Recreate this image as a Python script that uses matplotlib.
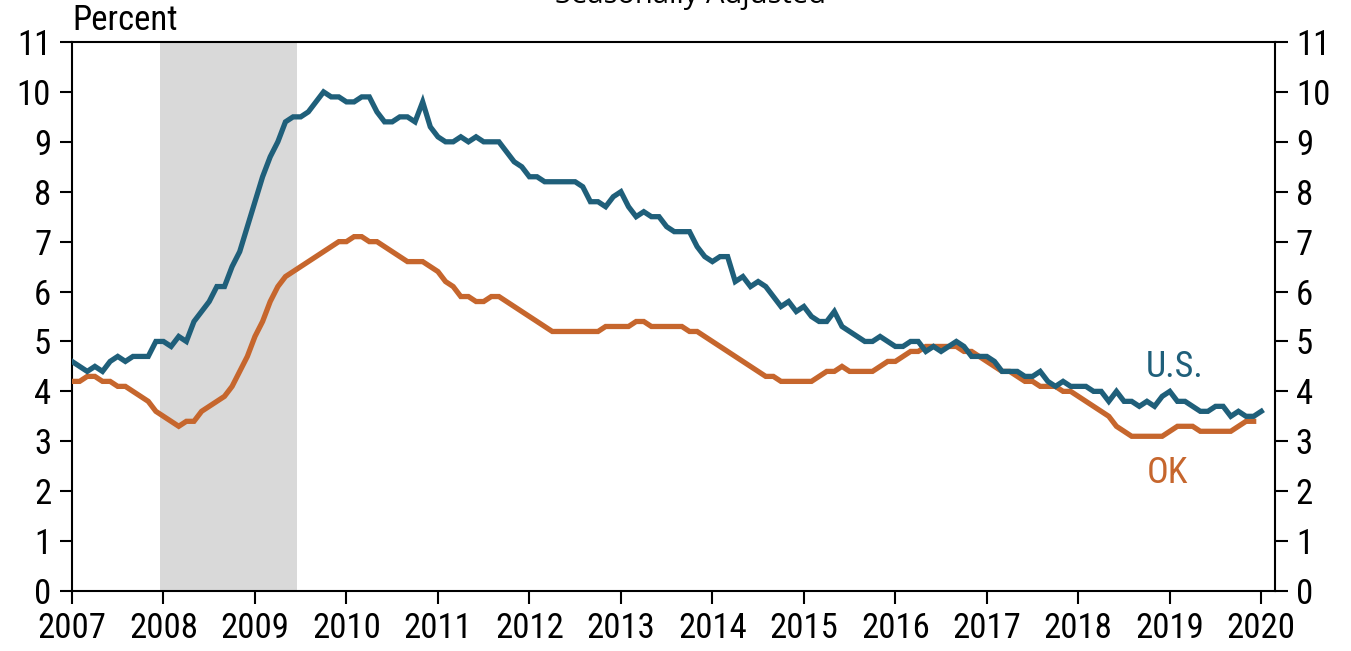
#!/usr/bin/env python3
"""Unemployment rate, U.S. vs Oklahoma, seasonally adjusted"""

import numpy as np
import matplotlib

matplotlib.use("Agg")
import matplotlib.pyplot as plt
from matplotlib import font_manager

#
# DATA (monthly, Jan 2007 onward)
#
start_year = 2007
us_rate = [
    4.6, 4.5, 4.4, 4.5, 4.4, 4.6, 4.7, 4.6, 4.7, 4.7, 4.7, 5.0,
    5.0, 4.9, 5.1, 5.0, 5.4, 5.6, 5.8, 6.1, 6.1, 6.5, 6.8, 7.3,
    7.8, 8.3, 8.7, 9.0, 9.4, 9.5, 9.5, 9.6, 9.8, 10.0, 9.9, 9.9,
    9.8, 9.8, 9.9, 9.9, 9.6, 9.4, 9.4, 9.5, 9.5, 9.4, 9.8, 9.3,
    9.1, 9.0, 9.0, 9.1, 9.0, 9.1, 9.0, 9.0, 9.0, 8.8, 8.6, 8.5,
    8.3, 8.3, 8.2, 8.2, 8.2, 8.2, 8.2, 8.1, 7.8, 7.8, 7.7, 7.9,
    8.0, 7.7, 7.5, 7.6, 7.5, 7.5, 7.3, 7.2, 7.2, 7.2, 6.9, 6.7,
    6.6, 6.7, 6.7, 6.2, 6.3, 6.1, 6.2, 6.1, 5.9, 5.7, 5.8, 5.6,
    5.7, 5.5, 5.4, 5.4, 5.6, 5.3, 5.2, 5.1, 5.0, 5.0, 5.1, 5.0,
    4.9, 4.9, 5.0, 5.0, 4.8, 4.9, 4.8, 4.9, 5.0, 4.9, 4.7, 4.7,
    4.7, 4.6, 4.4, 4.4, 4.4, 4.3, 4.3, 4.4, 4.2, 4.1, 4.2, 4.1,
    4.1, 4.1, 4.0, 4.0, 3.8, 4.0, 3.8, 3.8, 3.7, 3.8, 3.7, 3.9,
    4.0, 3.8, 3.8, 3.7, 3.6, 3.6, 3.7, 3.7, 3.5, 3.6, 3.5, 3.5,
    3.6,
]
ok_rate = [
    4.2, 4.2, 4.3, 4.3, 4.2, 4.2, 4.1, 4.1, 4.0, 3.9, 3.8, 3.6,
    3.5, 3.4, 3.3, 3.4, 3.4, 3.6, 3.7, 3.8, 3.9, 4.1, 4.4, 4.7,
    5.1, 5.4, 5.8, 6.1, 6.3, 6.4, 6.5, 6.6, 6.7, 6.8, 6.9, 7.0,
    7.0, 7.1, 7.1, 7.0, 7.0, 6.9, 6.8, 6.7, 6.6, 6.6, 6.6, 6.5,
    6.4, 6.2, 6.1, 5.9, 5.9, 5.8, 5.8, 5.9, 5.9, 5.8, 5.7, 5.6,
    5.5, 5.4, 5.3, 5.2, 5.2, 5.2, 5.2, 5.2, 5.2, 5.2, 5.3, 5.3,
    5.3, 5.3, 5.4, 5.4, 5.3, 5.3, 5.3, 5.3, 5.3, 5.2, 5.2, 5.1,
    5.0, 4.9, 4.8, 4.7, 4.6, 4.5, 4.4, 4.3, 4.3, 4.2, 4.2, 4.2,
    4.2, 4.2, 4.3, 4.4, 4.4, 4.5, 4.4, 4.4, 4.4, 4.4, 4.5, 4.6,
    4.6, 4.7, 4.8, 4.8, 4.9, 4.9, 4.9, 4.9, 4.9, 4.8, 4.8, 4.7,
    4.6, 4.5, 4.4, 4.4, 4.3, 4.2, 4.2, 4.1, 4.1, 4.1, 4.0, 4.0,
    3.9, 3.8, 3.7, 3.6, 3.5, 3.3, 3.2, 3.1, 3.1, 3.1, 3.1, 3.1,
    3.2, 3.3, 3.3, 3.3, 3.2, 3.2, 3.2, 3.2, 3.2, 3.3, 3.4, 3.4,
]
# recession (Dec 2007 - Jun 2009), decimal years
recession = (2007.967, 2009.458)
year_ticks = list(range(2007, 2021))
pct_ticks = list(range(0, 12))

US_COLOR = "#1f5f7a"
OK_COLOR = "#c6662d"


#
# TOOLS
#
def pick_font(names):
    have = {f.name for f in font_manager.fontManager.ttflist}
    for n in names:
        if n in have:
            return n
    return "DejaVu Sans"


narrow = pick_font(["Liberation Sans Narrow", "Arial Narrow", "Roboto Condensed", "DejaVu Sans Condensed", "Liberation Sans"])
title_font = pick_font(["Open Sans", "Lato", "Noto Sans"])

plt.rcParams["font.family"] = [narrow, "DejaVu Sans"]

us_x = start_year + np.arange(len(us_rate)) / 12.0
ok_x = start_year + np.arange(len(ok_rate)) / 12.0

fig = plt.figure(figsize=(13.51, 6.51), dpi=100)
ax = fig.add_axes([72 / 1351, 60 / 651, (1275 - 72) / 1351, (591 - 42) / 651])

ax.axvspan(recession[0], recession[1], color="#d9d9d9", lw=0, zorder=0)

ax.plot(ok_x, ok_rate, color=OK_COLOR, lw=3.8, solid_joinstyle="miter", zorder=3)
ax.plot(us_x, us_rate, color=US_COLOR, lw=3.8, solid_joinstyle="miter", zorder=4)

ax.set_xlim(2007, 2020.15)
ax.set_ylim(0, 11)
ax.set_xticks(year_ticks)
ax.set_xticklabels([str(y) for y in year_ticks])
ax.set_yticks(pct_ticks)

for s in ax.spines.values():
    s.set_linewidth(1.5)
    s.set_color("black")

ax.tick_params(axis="both", direction="out", length=9, width=1.5, labelsize=25, colors="black")
ax.tick_params(axis="x", pad=6)
ax.tick_params(axis="y", which="both", left=True, right=True, labelleft=True, labelright=True, pad=6)

ax.text(0.0, 1.01, "Percent", transform=ax.transAxes, fontsize=25, ha="left", va="bottom")

ax.text(2018.74, 4.29, "U.S.", color=US_COLOR, fontsize=26, ha="left", va="baseline")
ax.text(2018.75, 2.17, "OK", color=OK_COLOR, fontsize=26, ha="left", va="baseline")

# title sits mostly above the top edge, as in the source image
fig.text(0.511, 1 - 3 / 651, "Seasonally Adjusted", fontsize=21, ha="center", va="baseline", family=title_font)

fig.savefig("out.png", dpi=100)
